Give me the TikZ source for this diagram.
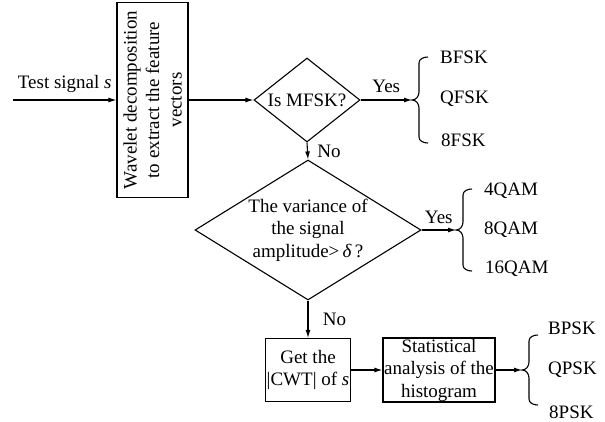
\documentclass[tikz,border=0pt]{standalone}
\usepackage{fontspec}
\setmainfont{Liberation Serif}
\usetikzlibrary{shapes.geometric,arrows.meta}
\tikzset{
  box/.style={draw,line width=1.1pt,align=center,inner sep=0pt},
  test/.style={draw,diamond,line width=1.1pt,align=center,inner sep=0pt},
  flow/.style={line width=1.1pt,-{Latex[length=8pt,width=5pt]}},
  lbl/.style={anchor=west,inner sep=0pt},
  pics/cbrace/.style={code={
    \draw[line width=1.1pt] (16,-#1) to[out=180,in=90] (7,-#1+6) -- (7,-8)
      to[out=-90,in=0] (0,0) to[out=0,in=90] (7,8) -- (7,#1-6) to[out=-90,in=180] (16,#1);
  }}
}
\begin{document}
\begin{tikzpicture}[x=1pt,y=-1pt,font=\fontsize{19}{22.5}\selectfont]
\useasboundingbox (0,0) rectangle (605,421);
\node[box,rotate=90,minimum width=195pt,minimum height=71pt] (wav) at (152.5,100) {Wavelet decomposition\\to extract the feature\\vectors};
\node[test,aspect=1.26,minimum width=106pt,minimum height=84pt] (mfsk) at (307,100) {Is MFSK?};
\node[test,aspect=1.6,minimum width=226pt,minimum height=140pt] (var) at (308,230) {The variance of\\the signal\\amplitude>\,\textit{δ}\,?};
\node[box,minimum width=85pt,minimum height=63pt] (cwt) at (308,370) {Get the\\|CWT| of \textit{s}};
\node[box,minimum width=112pt,minimum height=64pt] (hist) at (439,370) {Statistical\\analysis of the\\histogram};
\coordinate (in) at (13,100);
\coordinate (fsk) at (412,100);
\coordinate (qam) at (456,230);
\coordinate (psk) at (522,370);
% connectors
\draw[flow] (in) -- node[above=4pt]{Test signal \textit{s}} (wav.north);
\draw[flow] (wav.south) -- (mfsk.west);
\draw[flow] (mfsk.east) -- node[above=3pt]{Yes} (fsk);
\draw[flow] (mfsk.south) -- node[right=6pt]{No} (var.north);
\draw[flow] (var.east) -- node[above=2pt]{Yes} (qam);
\draw[flow] (var.south) -- node[right=11pt]{No} (cwt.north);
\draw[flow] (cwt.east) -- (hist.west);
\draw[flow] (hist.east) -- (psk);
% braces and classes
\pic at (fsk) {cbrace=43};
\pic at (qam) {cbrace=41};
\pic at (psk) {cbrace=35};
\node[lbl] (fsk1) at (440,57) {BFSK};
\node[lbl] (fsk2) at (440,99) {QFSK};
\node[lbl] (fsk3) at (441,140) {8FSK};
\node[lbl] (qam1) at (484,191) {4QAM};
\node[lbl] (qam2) at (484,230) {8QAM};
\node[lbl] (qam3) at (485,269) {16QAM};
\node[lbl] (psk1) at (548,328) {BPSK};
\node[lbl] (psk2) at (548,370) {QPSK};
\node[lbl] (psk3) at (549,412) {8PSK};
\end{tikzpicture}
\end{document}
